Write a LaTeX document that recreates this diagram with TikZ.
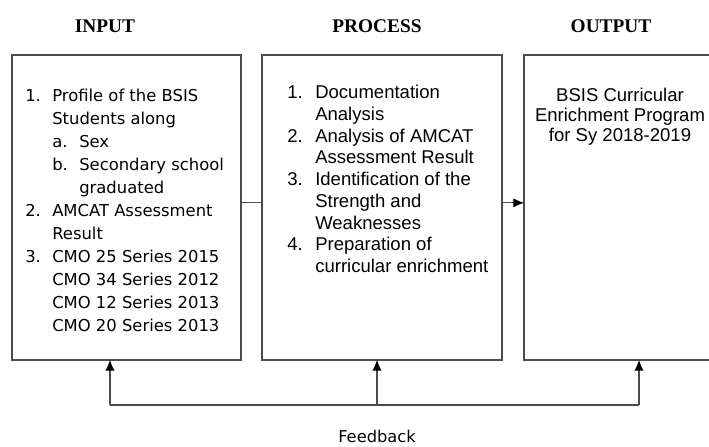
\documentclass[tikz,border=0pt]{standalone}
\usepackage{fontspec}
\setmainfont{Liberation Serif}
\newfontfamily\inputfont{DejaVu Sans}
\newfontfamily\arialfont{Liberation Sans}
\usetikzlibrary{arrows.meta, positioning}

\newcommand{\itm}[1]{\makebox[20.25pt][l]{#1}}
\newcommand{\pitm}[1]{\makebox[21pt][l]{#1}}

\begin{document}
\begin{tikzpicture}[x=0.75pt, y=-0.75pt, >={Latex[length=8pt,width=7pt,color=black]},
	box/.style={draw=black!70, line width=0.8pt, inner sep=0pt, outer sep=0pt},
	head/.style={font=\fontsize{14.5}{17}\selectfont\bfseries},
	inlist/.style={anchor=north west, inner sep=0pt, align=left, font=\inputfont\fontsize{12.3}{17.25}\selectfont},
	proclist/.style={anchor=north west, inner sep=0pt, align=left, font=\arialfont\fontsize{13.9}{16.3}\selectfont},
	link/.style={draw=black!70, line width=0.8pt}]
		\useasboundingbox (0,0) rectangle (709,446);

		\node[head] (inputhead) at (105,26) {INPUT};
		\node[head] (processhead) at (377,26) {PROCESS};
		\node[head] (outputhead) at (611,26) {OUTPUT};

		\node[box, minimum width=171.75pt, minimum height=228.75pt] (input) at (126.5,207.5) {};
		\node[box, minimum width=180pt, minimum height=228.75pt] (process) at (382,207.5) {};
		\node[box, minimum width=141pt, minimum height=228.75pt] (output) at (618,207.5) {};

		\node[inlist] (inputtxt) at (25,89) {%
			\itm{1.}Profile of the BSIS\\
			\itm{}Students along\\
			\itm{}\itm{a.}Sex\\
			\itm{}\itm{b.}Secondary school\\
			\itm{}\itm{}graduated\\
			\itm{2.}AMCAT Assessment\\
			\itm{}Result\\
			\itm{3.}CMO 25 Series 2015\\
			\itm{}CMO 34 Series 2012\\
			\itm{}CMO 12 Series 2013\\
			\itm{}CMO 20 Series 2013};

		\node[proclist] (processtxt) at (287,85) {%
			\pitm{1.}Documentation\\
			\pitm{}Analysis\\
			\pitm{2.}Analysis of AMCAT\\
			\pitm{}Assessment Result\\
			\pitm{3.}Identification of the\\
			\pitm{}Strength and\\
			\pitm{}Weaknesses\\
			\pitm{4.}Preparation of\\
			\pitm{}curricular enrichment};

		\node[proclist, anchor=north, align=center, font=\arialfont\fontsize{13.9}{15}\selectfont] (outputtxt) at (620,88) {%
			BSIS Curricular\\
			Enrichment Program\\
			for Sy 2018-2019};

		\draw[link] ([yshift=3.5pt]input.east) -- ([yshift=3.5pt]process.west);
		\draw[link, ->] ([yshift=3.5pt]process.east) -- ([yshift=3.5pt]output.west);

		% feedback loop
		\coordinate (fb1) at (110,405);
		\coordinate (fb2) at (377,405);
		\coordinate (fb3) at (639,405);
		\draw[link] (fb1) -- (fb3);
		\draw[link, ->] (fb1) -- (fb1 |- input.south);
		\draw[link, ->] (fb2) -- (fb2 |- process.south);
		\draw[link, ->] (fb3) -- (fb3 |- output.south);

		\node[font=\inputfont\fontsize{12.2}{14}\selectfont] (feedback) at (377,436.5) {Feedback};

	\end{tikzpicture}
\end{document}
